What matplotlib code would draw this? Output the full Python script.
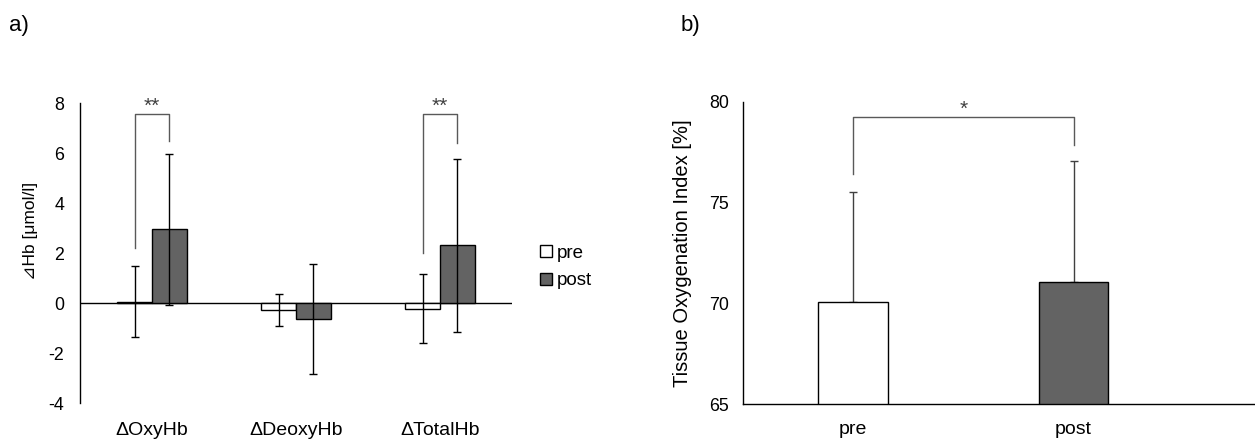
import numpy as np
import matplotlib

matplotlib.use('Agg')

import matplotlib.pyplot as plt
from matplotlib.patches import Patch

plt.rcParams['font.family'] = ['Liberation Sans', 'DejaVu Sans']
plt.rcParams['axes.unicode_minus'] = False

# panel a data
categories = ['\u0394OxyHb', '\u0394DeoxyHb', '\u0394TotalHb']
pre_mean = [0.06, -0.27, -0.22]
pre_sd = [1.42, 0.63, 1.39]
post_mean = [2.95, -0.64, 2.31]
post_sd = [3.02, 2.19, 3.46]
yticks_a = [-4, -2, 0, 2, 4, 6, 8]

# panel b data
groups = ['pre', 'post']
toi_mean = [70.05, 71.07]
toi_sd = [5.45, 6.0]
yticks_b = [65, 70, 75, 80]

W, H = 1255., 440.
post_color = '#636363'
bracket_color = '#595959'

fig = plt.figure(figsize=(12.55, 4.4), dpi=100)

# ---- panel a ----
ax = fig.add_axes([80/W, (H-403)/H, (512-80)/W, 300/H])
x = np.arange(len(categories))
bw = 0.24
ax.bar(x - bw/2, pre_mean, bw, color='white', edgecolor='black', linewidth=1, zorder=2)
ax.bar(x + bw/2, post_mean, bw, color=post_color, edgecolor='black', linewidth=1, zorder=2)
ax.errorbar(x - bw/2, pre_mean, yerr=pre_sd, fmt='none', ecolor='black', elinewidth=1, capsize=3, capthick=1, zorder=3)
ax.errorbar(x + bw/2, post_mean, yerr=post_sd, fmt='none', ecolor='black', elinewidth=1, capsize=3, capthick=1, zorder=3)
ax.axhline(0, color='black', linewidth=1, zorder=1)
ax.set_xlim(-0.5, 2.5)
ax.set_ylim(-4, 8)
ax.set_yticks(yticks_a)
ax.set_xticks(x)
ax.set_xticklabels(categories)
ax.tick_params(axis='y', length=0, labelsize=12.8, pad=11.5)
ax.tick_params(axis='x', length=0, labelsize=14, pad=14)
for s in ['top', 'right', 'bottom']:
    ax.spines[s].set_visible(False)
ax.spines['left'].set_linewidth(1)
ax.set_ylabel('\u22bfHb [\u03bcmol/l]', fontsize=12.5)
ax.yaxis.set_label_coords(-0.097, 0.573)

# significance brackets (OxyHb, TotalHb)
for i, lo, hi in [(0, 2.2, 6.5), (2, 2.0, 6.4)]:
    xl, xr = i - bw/2, i + bw/2
    ax.plot([xl, xl, xr, xr], [lo, 7.55, 7.55, hi], color=bracket_color, linewidth=1)
    ax.text(i, 7.88, '**', ha='center', va='center', fontsize=15, color='#404040')

handles = [Patch(facecolor='white', edgecolor='black', label='pre'),
           Patch(facecolor=post_color, edgecolor='black', label='post')]
fig.legend(handles=handles, loc='center left', bbox_to_anchor=(531/W, (H-267)/H),
           frameon=False, fontsize=13.5, handlelength=0.6, handleheight=0.6,
           handletextpad=0.25, labelspacing=0.55, borderpad=0)

fig.text(9/W, (H-25)/H, 'a)', fontsize=16, va='center', ha='left')

# ---- panel b ----
bx = fig.add_axes([742.7/W, (H-404.3)/H, (1255-742.7)/W, (404.3-101.7)/H])
xb = np.arange(len(groups))
bwb = 0.316
bx.bar(xb, toi_mean, bwb, color=['white', post_color], edgecolor='black', linewidth=1, zorder=2)
bx.errorbar(xb, toi_mean, yerr=[np.zeros(len(toi_sd)), toi_sd], fmt='none', ecolor='#404040',
            elinewidth=1, capsize=3, capthick=1, zorder=1)
bx.set_xlim(-0.5, 1.823)
bx.set_ylim(65, 80)
bx.set_yticks(yticks_b)
bx.set_xticks(xb)
bx.set_xticklabels(groups)
bx.tick_params(axis='y', length=0, labelsize=12.8, pad=10)
bx.tick_params(axis='x', length=0, labelsize=14, pad=12)
for s in ['top', 'right']:
    bx.spines[s].set_visible(False)
bx.spines['left'].set_linewidth(1)
bx.spines['bottom'].set_linewidth(1)
bx.set_ylabel('Tissue Oxygenation Index [%]', fontsize=14.5)
bx.yaxis.set_label_coords(-0.099, 0.5)

bx.plot([0, 0, 1, 1], [76.4, 79.24, 79.24, 77.87], color=bracket_color, linewidth=1)
bx.text(0.5, 79.6, '*', ha='center', va='center', fontsize=15, color='#404040')

fig.text(681/W, (H-25)/H, 'b)', fontsize=16, va='center', ha='left')

plt.savefig('out.png', dpi=100)
